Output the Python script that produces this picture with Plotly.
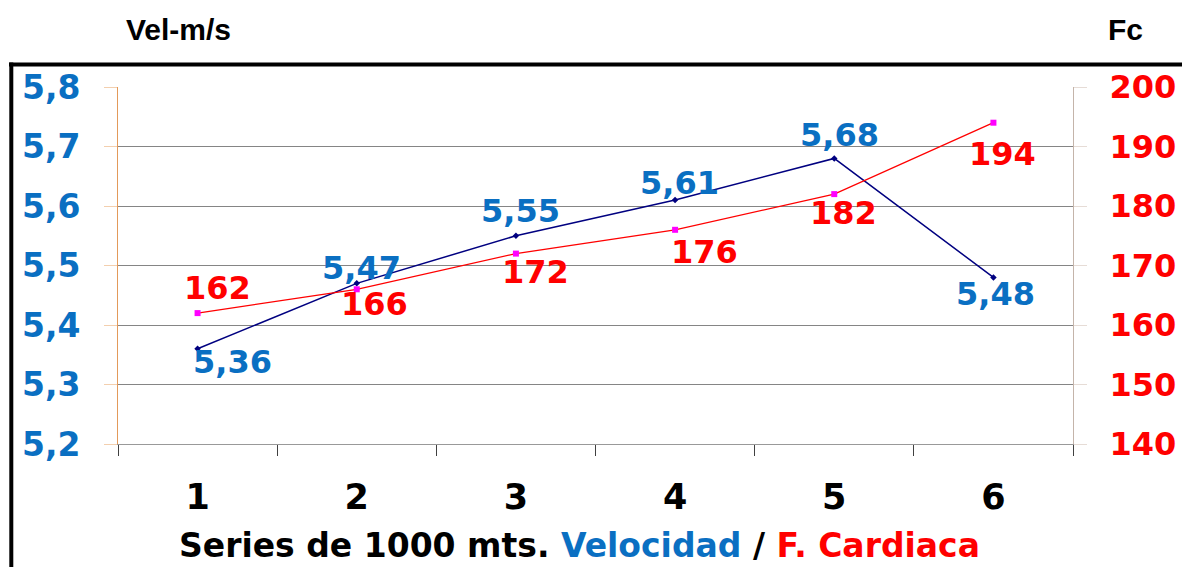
import plotly.graph_objects as go

categories = ["1", "2", "3", "4", "5", "6"]
velocidad = [5.36, 5.47, 5.55, 5.61, 5.68, 5.48]
f_cardiaca = [162, 166, 172, 176, 182, 194]
vel_ticks = [5.2, 5.3, 5.4, 5.5, 5.6, 5.7, 5.8]
fc_ticks = [140, 150, 160, 170, 180, 190, 200]

# label offsets in pixels (style)
vel_dx = [35, 5, 5, 4, 5, 2]
vel_dy = [-13, 15, 25, 17, 23, -17]
fc_dx = [20, 18, 20, 29, 9, 9]
fc_dy = [25, -15, -18, -22, -19, -31]

BLUE = "#0A6FC2"
RED = "#FF0000"
LBL_FONT = "DejaVu Sans"

W, H = 1182, 567
L, R, T, B = 118, 109, 87, 123
PW, PH = W - L - R, H - T - B


def px_x(px):
    return (px - L) / PW


def px_y(py):
    return (H - B - py) / PH


fig = go.Figure()
fig.add_trace(go.Scatter(
    x=categories, y=velocidad, mode="lines+markers", name="Velocidad",
    line=dict(color="#000080", width=1.5),
    marker=dict(symbol="diamond", size=5, color="#000080"),
    yaxis="y", showlegend=False, hoverinfo="skip"))
fig.add_trace(go.Scatter(
    x=categories, y=f_cardiaca, mode="lines+markers", name="F. Cardiaca",
    line=dict(color="#FF0000", width=1.3),
    marker=dict(symbol="square", size=6, color="#FF00FF"),
    yaxis="y2", showlegend=False, hoverinfo="skip"))

annotations = []
for i, (v, dx, dy) in enumerate(zip(velocidad, vel_dx, vel_dy)):
    annotations.append(dict(x=i, y=v, xref="x", yref="y",
                            text=f"{v:.2f}".replace(".", ","), showarrow=False,
                            xshift=dx, yshift=dy,
                            font=dict(family=LBL_FONT, size=32, color=BLUE, weight="bold")))
for i, (v, dx, dy) in enumerate(zip(f_cardiaca, fc_dx, fc_dy)):
    annotations.append(dict(x=i, y=v, xref="x", yref="y2",
                            text=str(v), showarrow=False,
                            xshift=dx, yshift=dy,
                            font=dict(family=LBL_FONT, size=32, color=RED, weight="bold")))

annotations.append(dict(x=px_x(178), y=px_y(30), xref="paper", yref="paper",
                        text="Vel-m/s", showarrow=False, xanchor="center", yanchor="middle",
                        font=dict(family="Liberation Sans", size=30, color="black", weight="bold")))
annotations.append(dict(x=px_x(1125), y=px_y(30), xref="paper", yref="paper",
                        text="Fc", showarrow=False, xanchor="center", yanchor="middle",
                        font=dict(family="Liberation Sans", size=30, color="black", weight="bold")))
annotations.append(dict(
    x=px_x(579), y=px_y(545), xref="paper", yref="paper", showarrow=False,
    xanchor="center", yanchor="middle",
    text=("<span style='color:black'>Series de 1000 mts. </span>"
          f"<span style='color:{BLUE}'>Velocidad</span>"
          "<span style='color:black'> / </span>"
          f"<span style='color:{RED}'>F. Cardiaca</span>"),
    font=dict(family=LBL_FONT, size=33, color="black", weight="bold")))

shapes = [
    dict(type="line", xref="paper", yref="paper",
         x0=px_x(9), x1=px_x(1200), y0=px_y(64.5), y1=px_y(64.5),
         line=dict(color="black", width=4)),
    dict(type="line", xref="paper", yref="paper",
         x0=px_x(11.3), x1=px_x(11.3), y0=px_y(62.5), y1=px_y(600),
         line=dict(color="black", width=4)),
]

fig.update_layout(
    width=W, height=H, autosize=False,
    margin=dict(l=L, r=R, t=T, b=B, pad=0, autoexpand=False),
    paper_bgcolor="white", plot_bgcolor="white",
    separators=",.",
    xaxis=dict(type="category", categoryorder="array", categoryarray=categories,
               range=[-0.5, 5.5], showgrid=False, tickson="boundaries",
               ticks="outside", ticklen=11, tickcolor="#404040", tickwidth=1,
               showline=True, linecolor="#999999", linewidth=1,
               ticklabelstandoff=22, automargin=False,
               tickfont=dict(family=LBL_FONT, size=35, color="black", weight="bold"),
               zeroline=False),
    yaxis=dict(range=[5.2, 5.8], tickvals=vel_ticks, tickformat=".1f",
               showgrid=True, gridcolor="#858585", gridwidth=1,
               showline=True, linecolor="#E39A5A", linewidth=1,
               ticks="outside", ticklen=13, tickcolor="#F3CFAE",
               ticklabelstandoff=17, automargin=False,
               tickfont=dict(family=LBL_FONT, size=33, color=BLUE, weight="bold"),
               zeroline=False),
    yaxis2=dict(range=[140, 200], tickvals=fc_ticks, overlaying="y", side="right",
                showgrid=False, showline=True, linecolor="#C4B4AA", linewidth=1,
                ticks="outside", ticklen=13, tickcolor="#E6DCD6",
                ticklabelstandoff=16, automargin=False,
                tickfont=dict(family=LBL_FONT, size=32, color=RED, weight="bold"),
                zeroline=False),
    annotations=annotations, shapes=shapes,
)

fig.write_html(
    "out.html",
    config={"responsive": False, "displayModeBar": False},
    default_width="1182px", default_height="567px",
    post_script="document.body.style.margin='0px';document.body.style.overflow='hidden';",
)
